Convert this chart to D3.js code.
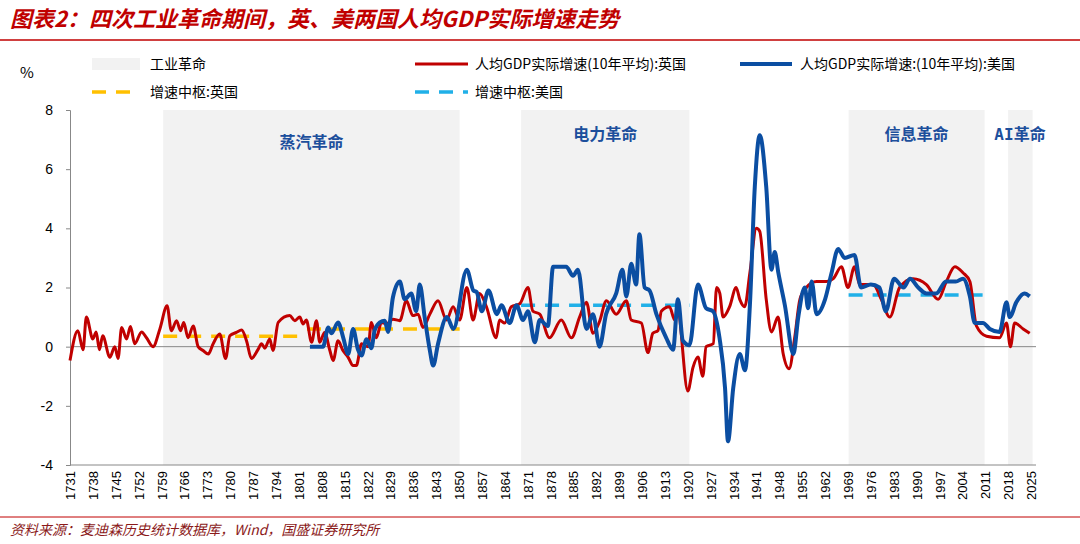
<!DOCTYPE html>
<html><head><meta charset="utf-8">
<script src="https://cdn.jsdelivr.net/npm/d3@7"></script>
<style>body{margin:0;background:#fff}svg{font-family:"Noto Sans CJK SC","Noto Sans",sans-serif}</style>
</head><body><svg id="c" width="1080" height="544"></svg>
<script>
const eras = [{name:"蒸汽革命",s:1759.5,e:1850.2},{name:"电力革命",s:1869,e:1920.5},{name:"信息革命",s:1969.2,e:2010.8},{name:"AI革命",s:2018,e:2025.5}];
const xTicks = d3.range(1731, 2026, 7);
const yTicks = [-4,-2,0,2,4,6,8];
const ukYears = [1731,1733.4,1735,1736,1738,1739,1740,1741,1743.2,1744.7,1745.7,1746.8,1748.3,1749.5,1750.8,1752.9,1754.4,1756.4,1758.5,1760.7,1762,1763.6,1764.8,1765.8,1767.1,1768.7,1770.2,1771.7,1773.3,1774.8,1776.8,1778.6,1779.9,1781.9,1783.5,1785,1786.5,1788.5,1789.6,1790.6,1792.1,1793.1,1794.7,1798.2,1799.8,1801.3,1802.3,1803.3,1804.9,1806.4,1807.4,1808.9,1810.5,1811.5,1813,1814.5,1816.1,1817.6,1818.6,1820.2,1822.2,1823.2,1824.7,1826.3,1827.8,1829.8,1831.9,1833.9,1835.9,1837.5,1839,1841.1,1843.6,1846.2,1848.2,1850.2,1852.4,1854.3,1856.3,1858.4,1861.4,1862.4,1864,1866,1868.6,1871.1,1872.6,1874.7,1877.7,1881.3,1884.4,1886.9,1889,1891,1893,1895.1,1898.1,1901.2,1902.7,1905.8,1907.8,1909.3,1910.9,1911.9,1914.4,1916,1917,1920,1921.6,1923.1,1924.6,1925.6,1927.8,1928.8,1929.8,1930.8,1932.8,1934.8,1935.9,1937.4,1939,1941,1942,1944,1945.6,1947.6,1949.2,1951,1952.7,1954.3,1956.3,1959.4,1962.4,1964.5,1967,1969,1971,1972.6,1976.7,1979.2,1981.8,1984.8,1988.9,1993,1996.6,1999.1,2001.7,2004.2,2006.3,2008.3,2011.4,2015.4,2017.5,2018.7,2020,2022.6,2024.6];
const ukValues = [-0.47,0.54,-0.1,1.0,0.26,0.5,-0.1,0.37,-0.36,0,-0.4,0.65,0.26,0.68,0.1,0.5,0.3,0,0.6,1.38,0.54,0.88,0.54,0.82,0.3,0.7,0,-0.13,-0.25,0.1,0.43,-0.4,0.37,0.48,0.56,0.2,-0.4,-0.1,0.1,-0.05,0.26,-0.13,0.82,1.05,0.88,1.0,0.77,0.9,0.15,0.88,0.15,0.48,-0.13,-0.47,0.2,-0.13,-0.36,-0.64,-0.64,0.1,0,0.82,0.3,0.82,0.77,0.93,0.88,1.55,1.05,1.1,0.65,1.1,1.55,0.9,1.35,0.9,2.0,0.9,1.8,1.35,0.3,0.9,0.8,1.35,1.45,2.0,1.2,1.1,0.3,0.9,0.3,1.0,1.5,0.45,0.85,1.55,1.1,1.55,0.9,0.8,-0.2,0.45,0.55,1.2,1.35,0.9,1.1,-1.5,-0.7,-0.35,-1.0,0,0.1,2.0,1.8,1.0,1.35,2.0,1.6,1.35,2.5,4.0,3.9,1.6,0.5,1.0,-0.25,-0.75,0.3,1.6,2.0,2.2,2.2,2.3,2.7,2.0,2.7,2.1,2.1,1.6,1.0,2.0,2.3,2.1,1.6,2.2,2.7,2.5,2.2,0.7,0.35,0.3,0.8,0.0,0.8,0.6,0.45];
const usYears = [1804.4,1808.4,1810,1811,1813,1814.6,1816.1,1817.6,1819.1,1820.2,1821.7,1823.2,1824.2,1825.8,1827.3,1828.3,1829.8,1831.9,1833.4,1835.4,1836.9,1838,1839.5,1841.1,1842.1,1843.6,1846.3,1848.3,1852.4,1854.4,1855.4,1857,1859,1861.6,1863,1865.5,1867.6,1869.6,1871.1,1873.2,1874.7,1877.2,1878.8,1882.8,1884.9,1886.4,1889,1891,1893,1895,1898.1,1900,1901.2,1902.7,1904.2,1905.2,1906.8,1908.3,1910.4,1913.4,1915.5,1917,1918.5,1920.5,1923.1,1925.6,1927.7,1929.7,1931.4,1932.3,1933.9,1935.9,1937.5,1939,1940.5,1942,1944,1945.6,1946.6,1947.7,1949.7,1952.3,1953.8,1955.8,1956.8,1957.9,1959.4,1962,1964,1966,1968,1971,1973,1976,1978.6,1980.6,1983.1,1986,1988,1990.5,1993,1996,1999,2002,2004.2,2006.3,2007.8,2010.3,2012.4,2015.4,2017.5,2018.5,2020.5,2023,2024.6];
const usValues = [0,0,0.65,0.45,0.82,0.3,-0.25,0.6,-0.1,-0.3,0.25,-0.05,0.55,0.82,0.88,0.5,1.67,2.2,1.6,1.8,1.2,2.1,1.0,-0.13,-0.64,0.1,1.0,0.6,2.6,1.9,1.85,1.2,1.9,1.1,1.4,0.8,1.4,0.9,1.2,0.15,0.9,0.7,2.7,2.7,2.4,2.6,0.6,1.1,0.0,1.1,1.8,2.6,1.7,2.8,2.1,3.8,2.0,1.9,1.1,0.3,-0.1,1.6,0.2,0.05,2.1,1.3,1.2,0.3,-1.4,-3.2,-1.4,-0.25,-0.8,1.4,5.4,7.15,5.4,2.6,3.2,2.5,1.4,-0.25,1.0,2.0,1.3,2.2,1.1,1.6,2.5,3.3,3.0,3.1,2.0,2.1,2.0,1.2,2.3,2.0,2.3,2.0,1.8,1.8,2.2,2.2,2.3,1.7,0.8,0.8,0.6,0.5,1.5,1.0,1.5,1.8,1.7];
const ukMedian = [{s:1759.5,e:1803.5,v:0.35},{s:1803.5,e:1850.2,v:0.6}];
const usMedian = [{s:1869,e:1920.5,v:1.4},{s:1969.2,e:2010.8,v:1.75}];

const svg = d3.select("#c");
const x = d3.scaleLinear().domain([1731,2025]).range([70,1031]);
const y = d3.scaleLinear().domain([-4,8]).range([465,110]);
const RED="#c00000", BLUE="#0b4ea2", YEL="#ffc000", LB="#20b0e8";

svg.append("text").attr("x",10).attr("y",27).attr("fill","#c00000").attr("font-size",22).attr("font-weight","bold").attr("font-style","italic").text("图表2：四次工业革命期间，英、美两国人均GDP实际增速走势");
svg.append("line").attr("x1",0).attr("x2",1080).attr("y1",40).attr("y2",40).attr("stroke","#c00000").attr("stroke-width",1.5);
svg.append("line").attr("x1",0).attr("x2",1080).attr("y1",517).attr("y2",517).attr("stroke","#c00000").attr("stroke-width",1);
svg.append("text").attr("x",10).attr("y",535).attr("fill","#8b1a1a").attr("font-size",14).attr("font-style","italic").text("资料来源：麦迪森历史统计数据库，Wind，国盛证券研究所");

svg.selectAll("rect.era").data(eras).join("rect").attr("x",d=>x(d.s)).attr("width",d=>x(d.e)-x(d.s)).attr("y",y(8)).attr("height",y(-4)-y(8)).attr("fill","#f2f2f2");
svg.selectAll("text.era").data(eras).join("text").attr("x",d=>d.name==="AI革命"?1020:(x(d.s)+x(d.e))/2).attr("y",d=>d.name==="蒸汽革命"?148:140).attr("text-anchor","middle").attr("fill","#1d4f9c").attr("font-size",16).attr("font-weight","bold").attr("font-family","'DejaVu Sans Mono','Noto Sans CJK SC',monospace").text(d=>d.name);

const ya = svg.append("g").attr("transform","translate(70,0)").call(d3.axisLeft(y).tickValues(yTicks).tickSize(4).tickFormat(d=>String(d)));
ya.selectAll("text").attr("font-size",14).attr("fill","#000").attr("dx",-10);
ya.selectAll("path,line").attr("stroke","#888");
svg.append("line").attr("x1",70).attr("x2",1036).attr("y1",y(0)).attr("y2",y(0)).attr("stroke","#888");
const xa = svg.append("g").attr("transform",`translate(0,${y(-4)})`).call(d3.axisBottom(x).tickValues(xTicks).tickSize(0).tickFormat(d=>String(d)));
xa.select("path").attr("d","M70,0H1036").attr("stroke","#888");
xa.selectAll("text").attr("font-size",13).attr("fill","#000").attr("transform","rotate(-90)").attr("text-anchor","end").attr("x",-6).attr("y",0).attr("dy","0.35em");
svg.append("text").attr("x",20).attr("y",78).attr("font-size",15).text("%");

const dash = (g,data,col)=>g.selectAll(null).data(data).join("line").attr("x1",d=>x(d.s)).attr("x2",d=>x(d.e)).attr("y1",d=>y(d.v)).attr("y2",d=>y(d.v)).attr("stroke",col).attr("stroke-width",3.5).attr("stroke-dasharray","14,10");
dash(svg.append("g"),ukMedian,YEL);
dash(svg.append("g"),usMedian,LB);

const line = d3.line().x(d=>x(d[0])).y(d=>y(d[1])).curve(d3.curveMonotoneX);
svg.append("path").datum(ukYears.map((t,i)=>[t,ukValues[i]])).attr("d",line).attr("fill","none").attr("stroke",RED).attr("stroke-width",3);
svg.append("path").datum(usYears.map((t,i)=>[t,usValues[i]])).attr("d",line).attr("fill","none").attr("stroke",BLUE).attr("stroke-width",4);

const lg = svg.append("g").attr("font-size",14);
lg.append("rect").attr("x",92).attr("y",58).attr("width",48).attr("height",12).attr("fill","#f2f2f2");
lg.append("text").attr("x",150).attr("y",69).text("工业革命");
lg.append("line").attr("x1",92).attr("x2",140).attr("y1",92).attr("y2",92).attr("stroke",YEL).attr("stroke-width",3.5).attr("stroke-dasharray","14,10");
lg.append("text").attr("x",150).attr("y",97).text("增速中枢:英国");
lg.append("line").attr("x1",415).attr("x2",468).attr("y1",64).attr("y2",64).attr("stroke",RED).attr("stroke-width",3);
lg.append("text").attr("x",475).attr("y",69).text("人均GDP实际增速(10年平均):英国");
lg.append("line").attr("x1",415).attr("x2",468).attr("y1",92).attr("y2",92).attr("stroke",LB).attr("stroke-width",3.5).attr("stroke-dasharray","14,10");
lg.append("text").attr("x",475).attr("y",97).text("增速中枢:美国");
lg.append("line").attr("x1",740).attr("x2",792).attr("y1",64).attr("y2",64).attr("stroke",BLUE).attr("stroke-width",4);
lg.append("text").attr("x",800).attr("y",69).text("人均GDP实际增速:(10年平均):美国");
</script></body></html>
